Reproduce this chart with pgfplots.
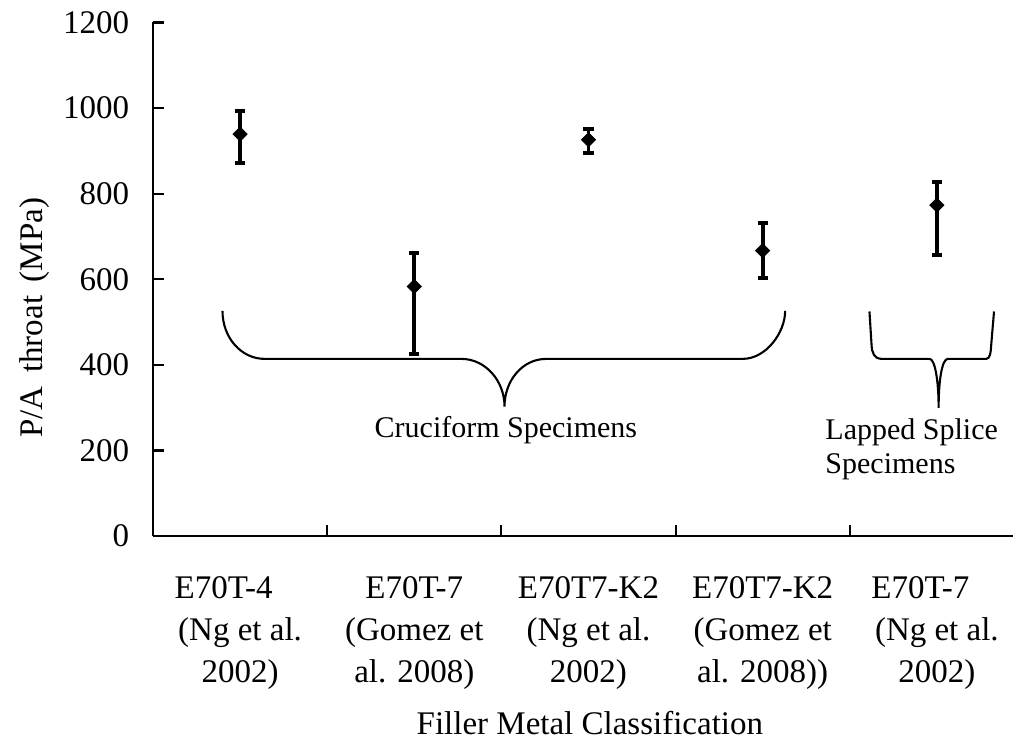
\documentclass[border=0pt]{standalone}
\usepackage{fontspec}
\setmainfont{Liberation Serif}
\usepackage{pgfplots}
\pgfplotsset{compat=1.18}
\begin{document}
\begin{tikzpicture}
\begin{axis}[
  width=286.7pt, height=171.2pt, scale only axis,
  xmin=-0.5, xmax=4.437, ymin=0, ymax=1200,
  axis x line=bottom, axis y line=left,
  axis line style={-, line width=0.8pt},
  tick align=inside,
  major tick length=3.7pt, minor tick length=3.7pt,
  tick style={line width=0.7pt, black},
  xtick={0,1,2,3,4},
  minor xtick={0.5,1.5,2.5,3.5},
  every major x tick/.append style={draw=none},
  xticklabels={{E70T-4\hphantom{00}\\(Ng et al.\\2002)},{E70T-7\\(Gomez et\\al. 2008)},{E70T7-K2\\(Ng et al.\\2002)},{E70T7-K2\\(Gomez et\\al. 2008))},{E70T-7\hphantom{00}\\(Ng et al.\\2002)}},
  xticklabel style={align=center, font=\fontsize{11}{14}\selectfont, yshift=-10pt},
  ytick={0,200,...,1200},
  yticklabel style={font=\fontsize{11}{14}\selectfont, xshift=-4.4pt},
  /pgf/number format/assume math mode=true,
  /pgf/number format/1000 sep={},
  xlabel={Filler Metal Classification},
  xlabel style={at={(axis description cs:0.508,-0.364)}, anchor=center, font=\fontsize{11}{14}\selectfont},
  ylabel={P/A\, throat\, (MPa)},
  ylabel style={at={(axis description cs:-0.138,0.425)}, anchor=center, font=\fontsize{11}{14}\selectfont},
  clip=false,
]
\coordinate (O) at (rel axis cs:0,0);
\addplot[black, only marks, mark=square*, mark size=1.6pt, mark options={rotate=45},
  error bars/.cd, y dir=both, y explicit,
  error bar style={line width=1.3pt, black},
  error mark options={rotate=90, mark size=1.7pt, line width=1.3pt, black}]
  coordinates {
  (0,939) +=(0,55) -=(0,67)
  (1,583) +=(0,78) -=(0,158)
  (2,926) +=(0,25) -=(0,31)
  (3,667) +=(0,64) -=(0,65)
  (4,773) +=(0,55) -=(0,117)
  };
% braces
\draw[line width=0.7pt] (-0.101,526) .. controls (-0.101,463) and (0.008,414) .. (0.140,414)
  -- (1.270,414) .. controls (1.408,414) and (1.518,363) .. (1.518,302.6)
  .. controls (1.518,363) and (1.620,414) .. (1.758,414)
  -- (2.886,414) .. controls (3.018,414) and (3.129,475) .. (3.129,526);
\draw[line width=0.7pt] (3.613,524.7) -- (3.625,447) .. controls (3.627,428) and (3.640,414) .. (3.684,414)
  -- (3.958,414) .. controls (3.988,414) and (4.010,365) .. (4.010,299.6)
  .. controls (4.010,365) and (4.030,414) .. (4.063,414)
  -- (4.283,414) .. controls (4.306,414) and (4.310,430) .. (4.312,447) -- (4.328,524.7);
\node[anchor=base, font=\fontsize{10}{11}\selectfont, inner sep=0pt] at (1.526,231) {Cruciform Specimens};
\node[anchor=base west, font=\fontsize{10}{11}\selectfont, inner sep=0pt] at (3.357,225) {Lapped Splice};
\node[anchor=base west, font=\fontsize{10}{11}\selectfont, inner sep=0pt] at (3.357,147) {Specimens};
\end{axis}
\pgfresetboundingbox
\path ([shift={(-51pt,-69.6pt)}]O) rectangle ([shift={(286.7pt,178.7pt)}]O);
\end{tikzpicture}
\end{document}
